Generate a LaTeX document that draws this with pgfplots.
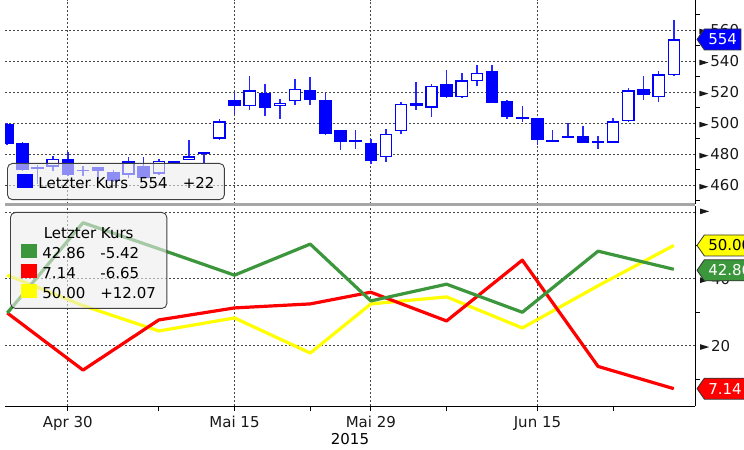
\documentclass[border=0pt]{standalone}
\usepackage{pgfplots}
\pgfplotsset{compat=1.18}
\usepackage{pgfplotstable}
\usepackage{fontspec}
\setmainfont{DejaVu Sans}
\usetikzlibrary{shapes.symbols}

\definecolor{cblue}{RGB}{0,0,255}
\definecolor{lgreen}{RGB}{60,150,60}
\definecolor{lred}{RGB}{255,0,0}
\definecolor{lyellow}{RGB}{255,255,0}
\definecolor{gridc}{RGB}{70,70,70}

% i = trading day (Apr 30 = 0), o/c/h/l = open/close/high/low, u = 1 for rising (hollow) candle
\pgfplotstableread{
i  o     c     h     l     u
-4 499.5 486.5 500.0 486.0 0
-3 487.0 470.0 488.0 469.0 0
-2 471.9 471.1 473.0 461.0 0
-1 472.0 477.0 479.0 469.0 1
0  477.0 467.0 481.5 466.0 0
1  470.1 469.3 472.3 465.8 0
2  471.6 469.3 471.8 464.3 0
3  468.8 463.0 470.0 462.0 0
4  467.0 475.5 478.0 465.0 1
5  472.3 465.0 478.3 464.8 0
6  467.5 476.0 477.0 467.0 1
7  474.0 475.7 476.0 473.5 1
8  476.6 478.7 489.5 476.3 1
9  481.3 480.0 481.5 474.0 0
10 490.0 501.3 503.0 489.5 1
11 515.0 511.0 519.5 506.3 0
12 511.0 521.3 530.3 508.4 1
13 519.5 510.0 525.0 504.5 0
14 511.0 513.3 515.5 503.0 1
15 514.2 522.0 528.2 511.6 1
16 521.3 514.8 529.5 511.6 0
17 514.8 493.4 519.8 492.3 0
18 495.5 488.0 495.5 483.0 0
19 489.0 488.2 495.5 483.7 0
20 487.5 476.0 490.0 474.0 0
21 478.0 493.4 496.0 475.0 1
22 495.0 512.7 514.0 493.0 1
23 513.3 511.0 526.3 508.8 0
24 510.0 524.0 525.2 504.0 1
25 525.6 517.0 534.2 516.0 0
26 517.0 527.7 532.5 516.0 1
27 527.3 532.5 537.4 524.0 1
28 533.5 513.0 537.4 512.8 0
29 514.2 504.0 515.0 502.6 0
30 503.8 503.0 511.0 500.8 0
31 503.4 489.0 503.6 485.8 0
32 489.0 488.2 495.5 488.2 0
33 491.5 490.7 500.0 490.7 0
34 491.8 487.5 498.0 487.3 0
35 488.3 487.7 491.6 483.2 0
36 487.5 501.3 503.7 487.3 1
37 501.5 521.3 523.0 501.0 1
38 521.9 518.0 530.3 514.8 0
39 517.0 531.6 533.5 513.7 1
40 531.0 554.0 566.5 530.3 1
}\candles

% weekly values of the lower panel
\pgfplotstableread{
i  g     r     y
-4 29.8  29.8  41.1
1  56.8  12.7  32.0
6  49.0  27.7  24.4
11 41.1  31.3  28.3
16 50.4  32.5  17.8
20 33.4  36.0  32.5
25 38.4  27.4  34.6
30 30.0  45.6  25.3
35 48.28 13.79 37.93
40 42.86 7.14  50.00
}\weekly

\newcommand{\tri}{\tikz[baseline=-0.5ex]\fill (0,-2.8bp)--(9bp,0)--(0,2.8bp)--cycle;}
\newcommand{\sw}[1]{\textcolor{#1}{\rule{16bp}{14bp}}}

\pgfplotsset{
  bbg/.style={
    scale only axis, width=690bp,
    xmin=-4.15, xmax=41.4,
    axis y line*=right,
    tick align=outside,
    /pgf/number format/assume math mode=true,
    every tick label/.append style={font=\fontsize{15bp}{18bp}\selectfont, text=black!90},
    label style={font=\fontsize{15bp}{18bp}\selectfont},
    grid=major,
    major grid style={gridc, line width=0.9bp, dash pattern=on 2bp off 2bp},
    major y tick style={draw=none},
    minor tick style={draw=black, line width=0.9bp},
    minor tick length=5bp,
    yticklabel style={anchor=west, inner sep=0pt, xshift=0pt},
  },
}

\begin{document}
\begin{tikzpicture}
\fontsize{15bp}{20bp}\selectfont

% ---------- price panel ----------
\begin{axis}[bbg,
  at={(5bp,450bp)}, anchor=north west, height=204.5bp,
  ymin=447.7, ymax=579.4,
  axis x line*=bottom,
  x axis line style={draw=gray!70, line width=3.5bp},
  y axis line style={draw=black, line width=0.9bp},
  xtick={0,11,20,31}, xticklabels={}, major x tick style={draw=none},
  ytick={460,480,...,560}, minor ytick={450,470,...,570},
  yticklabel={\tri\hspace{2bp}\pgfmathprintnumber{\tick}},
]
% wicks
\addplot[draw=none, error bars/.cd, y dir=both, y explicit, error mark=none,
  error bar style={draw=cblue!85!white, line width=1.6bp}]
  table[x=i, y expr={(\thisrow{h}+\thisrow{l})/2}, y error expr={(\thisrow{h}-\thisrow{l})/2}] {\candles};
% bodies
\addplot[draw=none, error bars/.cd, y dir=both, y explicit, error mark=none,
  error bar style={draw=cblue, line width=12.5bp}]
  table[x=i, y expr={(\thisrow{o}+\thisrow{c})/2}, y error expr={max(abs(\thisrow{o}-\thisrow{c})/2,0.5)}] {\candles};
% hollow inside of rising candles
\addplot[draw=none, error bars/.cd, y dir=both, y explicit, error mark=none,
  error bar style={draw=white, line width=9.8bp}]
  table[x=i, y expr={(\thisrow{o}+\thisrow{c})/2}, y error expr={\thisrow{u}*max(abs(\thisrow{o}-\thisrow{c})/2-0.85,0)}] {\candles};
\coordinate (tagp) at (axis cs:41.4,554);
\end{axis}

% ---------- indicator panel ----------
\begin{axis}[bbg,
  at={(5bp,44bp)}, anchor=south west, height=200bp,
  ymin=1.95, ymax=61.8,
  axis x line*=bottom,
  axis line style={draw=black, line width=0.9bp},
  xtick={0,11,20,31}, xticklabels={Apr 30,Mai 15,Mai 29,Jun 15},
  minor xtick={6,16,25,36},
  major x tick style={draw=black, line width=0.9bp}, major tick length=5bp,
  xlabel={2015}, xlabel style={yshift=7bp},
  ytick={20,40,60}, yticklabels={\tri\hspace{2bp}20,\tri\hspace{2bp}40,\tri},
  minor ytick={10,30,50},
]
\addplot[lyellow, line width=3.2bp, line join=round] table[x=i, y=y] {\weekly};
\addplot[lred, line width=3.2bp, line join=round] table[x=i, y=r] {\weekly};
\addplot[lgreen, line width=3.2bp, line join=round] table[x=i, y=g] {\weekly};
\coordinate (tagy) at (axis cs:41.4,50.00);
\coordinate (tagg) at (axis cs:41.4,42.86);
\coordinate (tagr) at (axis cs:41.4,7.14);
\end{axis}

% ---------- value tags ----------
\tikzset{vtag/.style={signal, signal to=west, signal pointer angle=110, anchor=west,
  draw=black!80, line width=0.8bp, minimum height=21bp, inner xsep=4bp, inner ysep=1bp,
  font=\fontsize{15bp}{18bp}\selectfont}}
\node[vtag, fill=cblue, text=white] at ([xshift=1.5bp]tagp) {554};
\node[vtag, fill=lyellow, text=black] at ([xshift=1.5bp]tagy) {50.00};
\node[vtag, fill=lgreen, text=white] at ([xshift=1.5bp,yshift=-1bp]tagg) {42.86};
\node[vtag, fill=lred, text=white] at ([xshift=1.5bp]tagr) {7.14};

% ---------- legends ----------
\node[draw=black!75, line width=0.9bp, rounded corners=5bp, fill=gray!15,
  fill opacity=0.6, text opacity=1, anchor=north west, inner xsep=10bp, inner ysep=11bp]
  at (7bp,287bp) {\sw{cblue}\hspace{5bp}Letzter Kurs\hspace{11bp}554\hspace{15bp}+22};

\node[draw=black!75, line width=0.9bp, rounded corners=5bp, fill=gray!15,
  fill opacity=0.6, text opacity=1, anchor=north west, inner xsep=11bp, inner ysep=4bp]
  at (10bp,238bp) {%
  \begin{tabular}{@{}l@{\hspace{5bp}}l@{\hspace{15bp}}l@{}}
  \multicolumn{3}{c}{\rule{0pt}{22bp}Letzter Kurs}\\
  \sw{lgreen} & 42.86 & -5.42\\
  \sw{lred} & 7.14 & -6.65\\
  \sw{lyellow} & 50.00 & +12.07
  \end{tabular}};

\pgfresetboundingbox
\useasboundingbox (0,0) rectangle (744bp,450bp);
\end{tikzpicture}
\end{document}
